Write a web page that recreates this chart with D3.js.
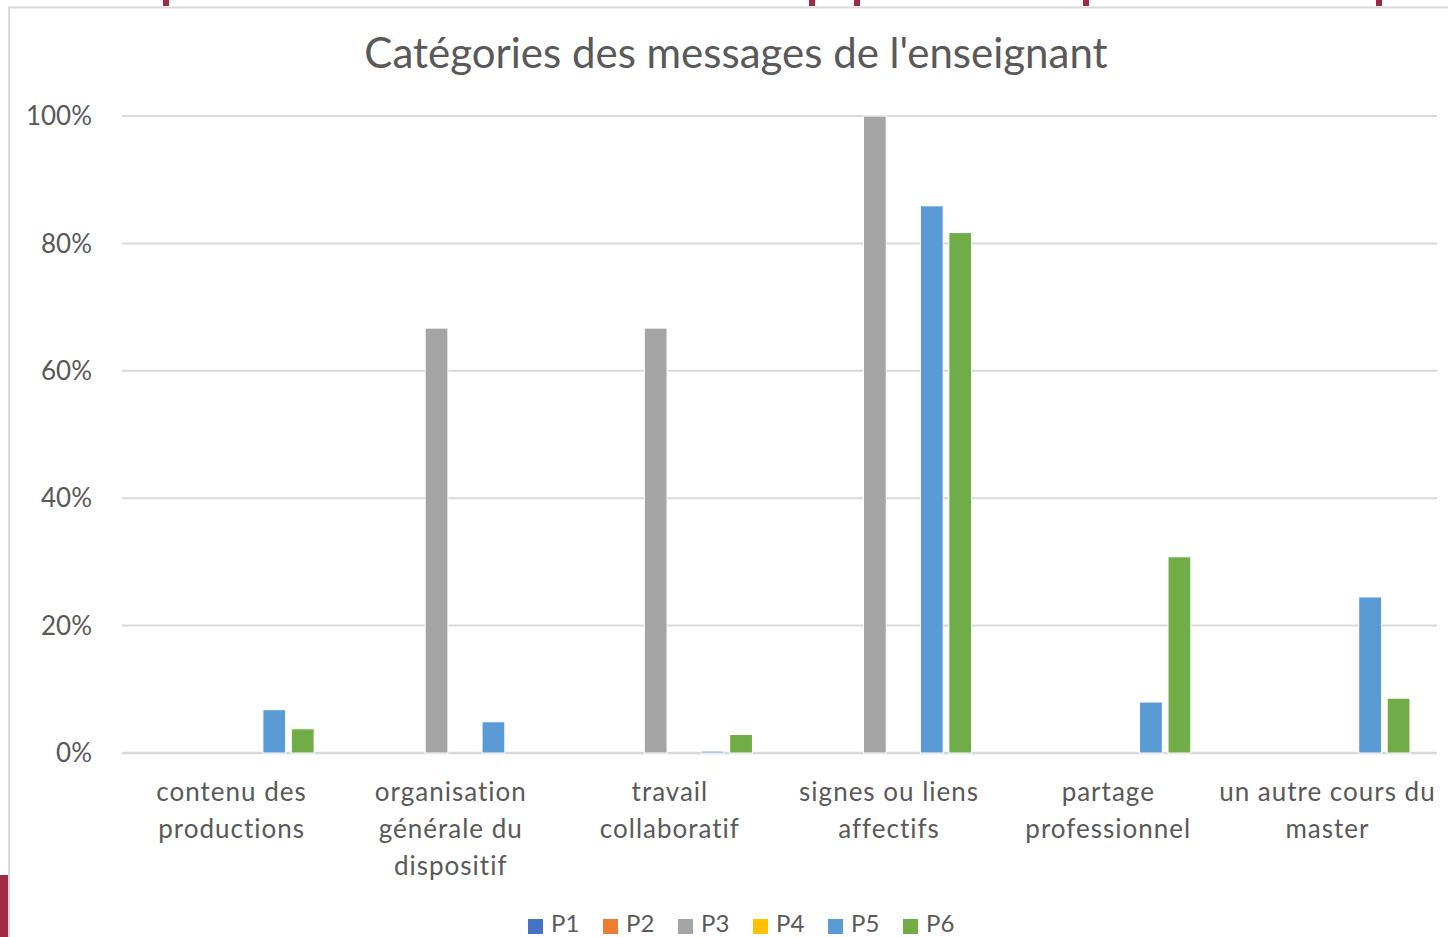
<!DOCTYPE html>
<html><head><meta charset="utf-8">
<script src="https://cdn.jsdelivr.net/npm/d3@7"></script>
<style>body{margin:0;background:#fff;}svg{display:block;}</style>
</head><body>
<svg id="c" width="1448" height="937"></svg>
<script>
const title = "Catégories des messages de l'enseignant";
const categories = [
  ["contenu des","productions"],
  ["organisation","générale du","dispositif"],
  ["travail","collaboratif"],
  ["signes ou liens","affectifs"],
  ["partage","professionnel"],
  ["un autre cours du","master"]
];
const seriesNames = ["P1","P2","P3","P4","P5","P6"];
const seriesColors = ["#4472c4","#ed7d31","#a5a5a5","#ffc000","#5b9bd5","#70ad47"];
const P1 = [0,0,0,0,0,0];
const P2 = [0,0,0,0,0,0];
const P3 = [0,66.7,66.7,100,0,0];
const P4 = [0,0,0,0,0,0];
const P5 = [6.8,4.9,0.3,85.9,8.0,24.5];
const P6 = [3.8,0,2.9,81.7,30.8,8.6];
const seriesValues = [P1,P2,P3,P4,P5,P6];
const yTicks = [0,20,40,60,80,100];

const svg = d3.select("#c");
const font = "Lato, 'Open Sans', sans-serif";
const textCol = "#595959";

// slide decorations
svg.append("rect").attr("x",0).attr("y",0).attr("width",1448).attr("height",937).attr("fill","#fff");
[166,812,857,1086,1379].forEach(x=>svg.append("rect").attr("x",x-3).attr("y",0).attr("width",6).attr("height",6).attr("fill","#9e2a44"));
svg.append("rect").attr("x",0).attr("y",875).attr("width",8).attr("height",62).attr("fill","#9e2a44");
// chart frame
svg.append("path").attr("d","M9,937 V7.5 H1448").attr("fill","none").attr("stroke","#d9d9d9").attr("stroke-width",2);

const x0 = d3.scaleBand().domain(d3.range(categories.length)).range([122,1437]);
const x1 = d3.scaleBand().domain(seriesNames).range([0,x0.bandwidth()]).paddingInner(0.2).paddingOuter(0.95);
const y = d3.scaleLinear().domain([0,100]).range([753,116]);

// gridlines
svg.append("g").selectAll("line").data(yTicks).join("line")
  .attr("x1",122).attr("x2",1437).attr("y1",d=>y(d)).attr("y2",d=>y(d))
  .attr("stroke","#d9d9d9").attr("stroke-width",d=>d===0?2.5:2);

// y tick labels
svg.append("g").selectAll("text").data(yTicks).join("text")
  .attr("x",92).attr("y",d=>y(d)).attr("dy","0.35em").attr("text-anchor","end")
  .attr("font-family",font).attr("font-size",26).attr("fill",textCol).text(d=>d+"%");

// bars
const g = svg.append("g");
categories.forEach((c,i)=>{
  seriesNames.forEach((s,j)=>{
    const v = seriesValues[j][i];
    if(v<=0) return;
    g.append("rect")
      .attr("x",x0(i)+x1(s)).attr("width",x1.bandwidth())
      .attr("y",y(v)).attr("height",y(0)-y(v))
      .attr("fill",seriesColors[j]).attr("stroke","#fff").attr("stroke-width",1);
  });
});

// category labels
categories.forEach((lines,i)=>{
  const t = svg.append("text").attr("text-anchor","middle").attr("font-family",font)
    .attr("font-size",26).attr("letter-spacing",1).attr("fill",textCol);
  lines.forEach((l,k)=>t.append("tspan").attr("x",x0(i)+x0.bandwidth()/2).attr("y",801+k*37).text(l));
});

// title
svg.append("text").attr("x",736).attr("y",68).attr("text-anchor","middle")
  .attr("font-family",font).attr("font-size",42).attr("fill",textCol).text(title);

// legend
const leg = svg.append("g");
seriesNames.forEach((s,j)=>{
  const lx = 528 + j*75;
  leg.append("rect").attr("x",lx).attr("y",919).attr("width",15).attr("height",15).attr("fill",seriesColors[j]);
  leg.append("text").attr("x",lx+23).attr("y",932).attr("font-family",font).attr("font-size",24).attr("fill",textCol).text(s);
});
</script>
</body></html>
